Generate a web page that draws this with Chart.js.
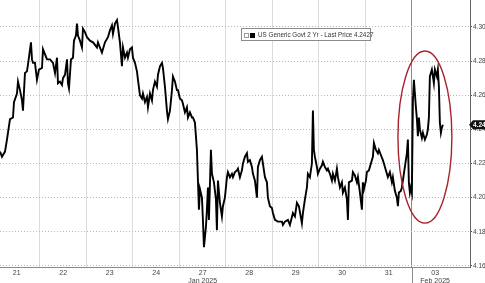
<!DOCTYPE html>
<html>
<head>
<meta charset="utf-8">
<script src="https://cdn.jsdelivr.net/npm/chart.js@4.4.1/dist/chart.umd.min.js"></script>
<style>
    body { margin: 0; background: #fff; }
    .wrap { position: relative; width: 485px; height: 283px; overflow: hidden; }
    .legend {
        position: absolute; left: 241px; top: 28px; width: 128px; height: 11px;
        border: 1px solid #8a8a8a; background: #fff;
        font: 6.3px "Liberation Sans", Arial, sans-serif; color: #333;
        line-height: 11px; white-space: nowrap;
    }
    .legend .ico { display: inline-block; width: 3px; height: 3px; border: 1px solid #999; margin: 0 1px 0 2px; vertical-align: middle; }
    .legend .sq { display: inline-block; width: 5px; height: 5px; background: #000; margin-right: 3px; vertical-align: middle; }
</style>
</head>
<body>
<div class="wrap">
    <canvas id="chart" width="485" height="283"></canvas>
    <div class="legend"><span class="ico"></span><span class="sq"></span>US Generic Govt 2 Yr - Last Price 4.2427</div>
</div>
<script>
// trading days shown, one slot each (grid lines between slots)
const dayLabels = ['21', '22', '23', '24', '27', '28', '29', '30', '31', '03'];
const monthSlots = [4, 9];
const monthLabels = ['Jan 2025', 'Feb 2025'];
const yTicks = [4.16, 4.18, 4.20, 4.22, 4.24, 4.26, 4.28, 4.30];
const lastPrice = 4.2427;

// position in day slots
const times = [
    0.140, 0.183, 0.247, 0.290, 0.355, 0.419, 0.441, 0.505, 0.527, 0.570,
    0.613, 0.634, 0.677, 0.720, 0.742, 0.806, 0.828, 0.849, 0.892, 0.935,
    0.978, 1.043, 1.065, 1.108, 1.151, 1.215, 1.280, 1.323, 1.366, 1.387,
    1.430, 1.473, 1.495, 1.538, 1.581, 1.602, 1.624, 1.667, 1.710, 1.731,
    1.774, 1.796, 1.817, 1.860, 1.903, 1.925, 1.968, 2.011, 2.075, 2.140,
    2.226, 2.247, 2.333, 2.398, 2.462, 2.505, 2.548, 2.570, 2.613, 2.656,
    2.677, 2.720, 2.763, 2.785, 2.828, 2.871, 2.892, 2.935, 2.978, 3.000,
    3.043, 3.086, 3.108, 3.151, 3.194, 3.215, 3.258, 3.301, 3.323, 3.366,
    3.409, 3.430, 3.473, 3.516, 3.538, 3.581, 3.624, 3.645, 3.688, 3.731,
    3.753, 3.796, 3.839, 3.860, 3.903, 3.946, 3.968, 4.011, 4.054, 4.075,
    4.118, 4.161, 4.183, 4.226, 4.269, 4.290, 4.333, 4.376, 4.398, 4.419,
    4.441, 4.484, 4.505, 4.527, 4.570, 4.591, 4.613, 4.634, 4.677, 4.699,
    4.742, 4.785, 4.806, 4.828, 4.871, 4.914, 4.935, 4.978, 5.022, 5.043,
    5.086, 5.129, 5.151, 5.194, 5.237, 5.258, 5.301, 5.344, 5.366, 5.409,
    5.452, 5.473, 5.516, 5.559, 5.581, 5.624, 5.667, 5.688, 5.731, 5.774,
    5.796, 5.839, 5.882, 5.903, 5.946, 5.989, 6.011, 6.054, 6.118, 6.204,
    6.226, 6.269, 6.333, 6.376, 6.441, 6.484, 6.527, 6.570, 6.634, 6.656,
    6.699, 6.742, 6.763, 6.806, 6.849, 6.871, 6.892, 6.914, 6.957, 6.978,
    7.022, 7.065, 7.086, 7.129, 7.172, 7.194, 7.237, 7.280, 7.301, 7.344,
    7.387, 7.409, 7.452, 7.495, 7.516, 7.559, 7.602, 7.624, 7.645, 7.710,
    7.731, 7.774, 7.817, 7.839, 7.882, 7.925, 7.946, 7.968, 8.011, 8.032,
    8.075, 8.118, 8.161, 8.183, 8.226, 8.269, 8.290, 8.333, 8.376, 8.398,
    8.462, 8.484, 8.527, 8.570, 8.591, 8.634, 8.677, 8.699, 8.720, 8.763,
    8.785, 8.806, 8.849, 8.892, 8.914, 8.935, 8.957, 8.978, 9.000, 9.022,
    9.043, 9.065, 9.086, 9.108, 9.129, 9.151, 9.172, 9.215, 9.237, 9.280,
    9.323, 9.344, 9.366, 9.387, 9.430, 9.452, 9.473, 9.495, 9.538, 9.559,
    9.581, 9.602, 9.624, 9.645, 9.667
];

const yields = [
    4.227, 4.224, 4.227, 4.234, 4.246, 4.247, 4.256, 4.261, 4.268, 4.263,
    4.257, 4.251, 4.273, 4.274, 4.278, 4.291, 4.281, 4.279, 4.279, 4.269,
    4.275, 4.276, 4.287, 4.284, 4.281, 4.281, 4.279, 4.273, 4.282, 4.267,
    4.268, 4.266, 4.270, 4.272, 4.281, 4.267, 4.264, 4.281, 4.282, 4.292,
    4.295, 4.302, 4.295, 4.292, 4.288, 4.299, 4.297, 4.294, 4.292, 4.291,
    4.288, 4.291, 4.285, 4.291, 4.294, 4.298, 4.301, 4.296, 4.302, 4.304,
    4.300, 4.291, 4.277, 4.288, 4.282, 4.285, 4.282, 4.287, 4.288, 4.282,
    4.279, 4.274, 4.269, 4.260, 4.258, 4.261, 4.256, 4.259, 4.253, 4.261,
    4.257, 4.263, 4.268, 4.265, 4.272, 4.277, 4.279, 4.276, 4.265, 4.251,
    4.246, 4.251, 4.263, 4.271, 4.268, 4.263, 4.263, 4.258, 4.257, 4.255,
    4.250, 4.253, 4.247, 4.250, 4.247, 4.247, 4.244, 4.228, 4.210, 4.193,
    4.205, 4.200, 4.187, 4.171, 4.183, 4.193, 4.206, 4.187, 4.228, 4.214,
    4.209, 4.199, 4.181, 4.210, 4.197, 4.189, 4.195, 4.200, 4.212, 4.215,
    4.212, 4.214, 4.212, 4.215, 4.216, 4.217, 4.212, 4.216, 4.220, 4.224,
    4.226, 4.221, 4.222, 4.218, 4.214, 4.210, 4.200, 4.218, 4.222, 4.224,
    4.220, 4.212, 4.209, 4.200, 4.195, 4.194, 4.191, 4.187, 4.186, 4.186,
    4.184, 4.186, 4.187, 4.184, 4.191, 4.189, 4.197, 4.195, 4.185, 4.191,
    4.199, 4.206, 4.214, 4.212, 4.220, 4.251, 4.228, 4.224, 4.218, 4.214,
    4.217, 4.219, 4.221, 4.218, 4.216, 4.217, 4.214, 4.210, 4.214, 4.210,
    4.217, 4.212, 4.206, 4.209, 4.203, 4.206, 4.199, 4.187, 4.209, 4.210,
    4.215, 4.213, 4.209, 4.212, 4.203, 4.193, 4.209, 4.205, 4.210, 4.215,
    4.216, 4.220, 4.224, 4.232, 4.228, 4.226, 4.228, 4.225, 4.222, 4.220,
    4.214, 4.212, 4.215, 4.209, 4.212, 4.204, 4.200, 4.195, 4.203, 4.204,
    4.206, 4.210, 4.218, 4.226, 4.234, 4.209, 4.203, 4.206, 4.203, 4.257,
    4.269, 4.261, 4.253, 4.246, 4.236, 4.247, 4.240, 4.235, 4.238, 4.234,
    4.237, 4.240, 4.247, 4.271, 4.275, 4.271, 4.267, 4.275, 4.271, 4.275,
    4.265, 4.244, 4.238, 4.241, 4.2427
];

// red ring around the last session, in data units
const ring = { t: 9.28, v: 4.2355, dt: 0.58, dv: 0.0504 };

const points = times.map((t, i) => ({ x: t, y: yields[i] }));

const noPad = (scale) => {
    scale.paddingTop = 0;
    scale.paddingBottom = 0;
    scale.paddingLeft = 0;
    scale.paddingRight = 0;
};

const extras = {
    id: 'extras',
    afterDatasetsDraw(chart) {
        const { ctx, scales: { x, y } } = chart;
        const cx = x.getPixelForValue(ring.t);
        const cy = y.getPixelForValue(ring.v);
        const rx = x.getPixelForValue(ring.t + ring.dt) - cx;
        const ry = cy - y.getPixelForValue(ring.v + ring.dv);
        ctx.save();
        ctx.strokeStyle = '#a8232b';
        ctx.lineWidth = 1.4;
        ctx.beginPath();
        ctx.ellipse(cx, cy, rx, ry, 0, 0, Math.PI * 2);
        ctx.stroke();
        ctx.restore();
    },
    afterDraw(chart) {
        const { ctx, chartArea, scales: { x, y } } = chart;
        // month separator runs down through the label band
        ctx.save();
        ctx.strokeStyle = '#8c8c8c';
        ctx.lineWidth = 1;
        const mx = Math.round(x.getPixelForValue(monthSlots[1])) + 0.5;
        ctx.beginPath();
        ctx.moveTo(mx, chartArea.bottom);
        ctx.lineTo(mx, chart.height);
        ctx.stroke();

        // last price badge on the axis
        const by = y.getPixelForValue(lastPrice);
        const bx = chartArea.right;
        ctx.fillStyle = '#111';
        ctx.beginPath();
        ctx.moveTo(bx - 1, by);
        ctx.lineTo(bx + 3, by - 4.5);
        ctx.lineTo(chart.width, by - 4.5);
        ctx.lineTo(chart.width, by + 4.5);
        ctx.lineTo(bx + 3, by + 4.5);
        ctx.closePath();
        ctx.fill();
        ctx.fillStyle = '#fff';
        ctx.font = 'bold 6.5px "Liberation Sans", Arial, sans-serif';
        ctx.textBaseline = 'middle';
        ctx.fillText(lastPrice.toFixed(4), bx + 3, by + 0.5);
        ctx.restore();
    }
};

new Chart(document.getElementById('chart'), {
    type: 'line',
    data: {
        datasets: [{
            data: points,
            borderColor: '#000',
            borderWidth: 1.9,
            pointRadius: 0,
            tension: 0,
            fill: false
        }]
    },
    options: {
        responsive: false,
        animation: false,
        devicePixelRatio: 1,
        layout: { padding: 0 },
        plugins: { legend: { display: false }, tooltip: { enabled: false } },
        scales: {
            x: {
                type: 'linear',
                min: 0.14,
                max: 10.25,
                afterBuildTicks(scale) {
                    const ticks = [];
                    dayLabels.forEach((d, i) => {
                        ticks.push({ value: i + 0.5 });
                        if (i > 0) ticks.push({ value: i });
                    });
                    ticks.sort((a, b) => a.value - b.value);
                    scale.ticks = ticks;
                },
                afterFit(scale) { scale.height = 16; noPad(scale); },
                grid: {
                    drawTicks: false,
                    lineWidth: 1,
                    color: (c) => {
                        if (!c.tick || !Number.isInteger(c.tick.value)) return 'rgba(0,0,0,0)';
                        return c.tick.value === monthSlots[1] ? '#8c8c8c' : '#dcdcdc';
                    }
                },
                border: { display: true, color: '#8a8a8a', width: 1 },
                ticks: {
                    autoSkip: false,
                    maxRotation: 0,
                    padding: 2,
                    color: '#444',
                    font: { family: '"Liberation Sans", Arial, sans-serif', size: 7, lineHeight: 1.15 },
                    callback(value) {
                        if (Number.isInteger(value)) return '';
                        const i = Math.floor(value);
                        const m = monthSlots.indexOf(i);
                        return m >= 0 ? [dayLabels[i], monthLabels[m]] : dayLabels[i];
                    }
                }
            },
            y: {
                position: 'right',
                min: 4.1594,
                max: 4.3158,
                afterBuildTicks(scale) {
                    scale.ticks = yTicks.map(v => ({ value: v }));
                },
                afterFit(scale) { scale.width = 15; noPad(scale); },
                grid: {
                    color: '#b8b8b8',
                    lineWidth: 1,
                    drawTicks: true,
                    tickLength: 2,
                    tickColor: '#555',
                    tickWidth: 1
                },
                border: { display: true, color: '#666', width: 1, dash: [1, 2] },
                ticks: {
                    padding: 1,
                    color: '#444',
                    font: { family: '"Liberation Sans", Arial, sans-serif', size: 6.5 },
                    callback: (v) => v.toFixed(2)
                }
            }
        }
    },
    plugins: [extras]
});
</script>
</body>
</html>
